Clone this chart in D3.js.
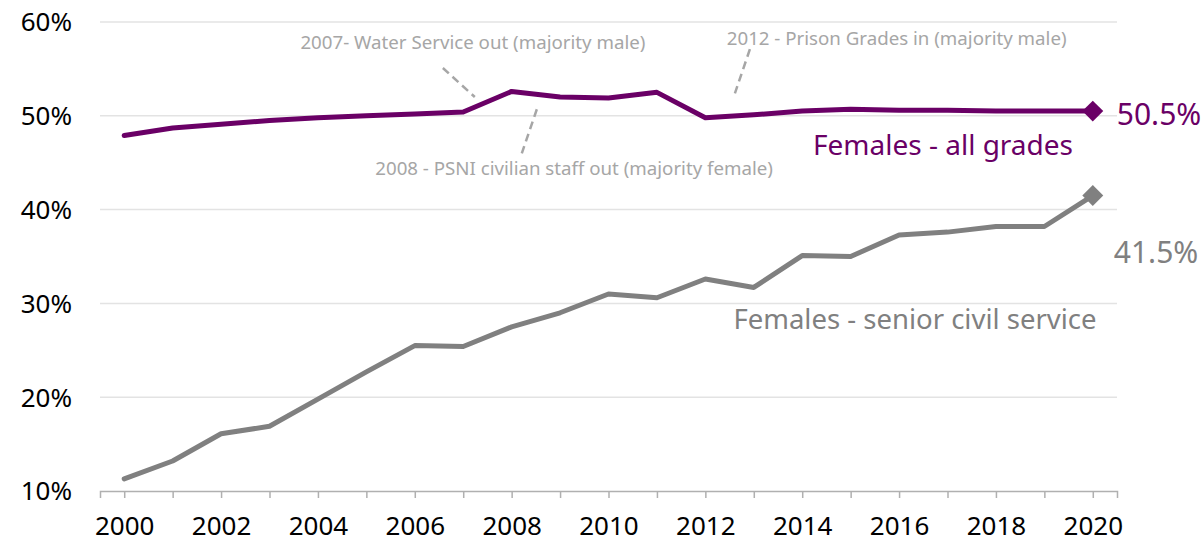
<!DOCTYPE html>
<html>
<head>
<meta charset="utf-8">
<script src="https://cdn.jsdelivr.net/npm/d3@7"></script>
<style>
  html, body { margin: 0; padding: 0; background: #fff; }
  svg text { font-family: "Noto Sans", sans-serif; }
</style>
</head>
<body>
<svg id="svg" width="1203" height="543"></svg>
<script>
'use strict'

var years = d3.range(2000, 2021);
var allGrades = [47.9, 48.7, 49.1, 49.5, 49.8, 50.0, 50.2, 50.4, 52.6, 52.0, 51.9,
                 52.5, 49.8, 50.1, 50.5, 50.7, 50.6, 50.6, 50.5, 50.5, 50.5];
var seniorCS = [11.3, 13.2, 16.1, 16.9, 19.8, 22.7, 25.5, 25.4, 27.5, 29.0, 31.0,
                30.6, 32.6, 31.7, 35.1, 35.0, 37.3, 37.6, 38.2, 38.2, 41.5];
var yTicks = [10, 20, 30, 40, 50, 60];
var xLabels = d3.range(2000, 2021, 2);

var purple = '#6a0066';
var grey = '#808080';
var noteGrey = '#a6a6a6';
var numFont = '"DejaVu Sans", sans-serif';

var svg = d3.select('#svg');

var x = d3.scaleLinear().domain([1999.5, 2020.5]).range([100, 1117]);
var y = d3.scaleLinear().domain([10, 60]).range([491, 22]);

// gridlines
svg.append('g')
  .selectAll('line')
  .data(yTicks.slice(1))
  .enter().append('line')
    .attr('x1', x(1999.5)).attr('x2', x(2020.5))
    .attr('y1', function(d) { return y(d); })
    .attr('y2', function(d) { return y(d); })
    .attr('stroke', '#e3e3e3')
    .attr('stroke-width', 1.5);

// y labels
svg.append('g')
  .selectAll('text')
  .data(yTicks)
  .enter().append('text')
    .attr('x', 72)
    .attr('y', function(d) { return y(d); })
    .attr('dy', '0.36em')
    .attr('text-anchor', 'end')
    .attr('font-family', numFont)
    .attr('font-size', 26)
    .attr('fill', '#000')
    .text(function(d) { return d + '%'; });

// x axis
var xAxis = d3.axisBottom(x)
  .tickValues(years)
  .tickSize(7)
  .tickFormat(function(d) { return xLabels.indexOf(d) >= 0 ? d : ''; });

var gx = svg.append('g')
  .attr('transform', 'translate(0,' + y(10) + ')')
  .call(xAxis);
gx.select('.domain').attr('stroke', '#b0b0b0').attr('stroke-width', 1.5);
gx.selectAll('.tick line').attr('stroke', '#b0b0b0').attr('stroke-width', 1.5);
gx.selectAll('.tick text')
  .attr('font-family', numFont)
  .attr('font-size', 26)
  .attr('fill', '#000')
  .attr('y', 35)
  .attr('dy', '0.36em');

// lines
var line = d3.line()
  .x(function(d, i) { return x(years[i]); })
  .y(function(d) { return y(d); });

[[seniorCS, grey], [allGrades, purple]].forEach(function(s) {
  svg.append('path')
    .attr('d', line(s[0]))
    .attr('fill', 'none')
    .attr('stroke', s[1])
    .attr('stroke-width', 5)
    .attr('stroke-linejoin', 'round')
    .attr('stroke-linecap', 'round');

  var last = s[0].length - 1;
  svg.append('path')
    .attr('d', d3.symbol().type(d3.symbolDiamond2).size(280)())
    .attr('transform', 'translate(' + x(years[last]) + ',' + y(s[0][last]) + ')')
    .attr('fill', s[1]);
});

// end value labels
svg.append('text')
  .attr('x', x(2020) + 24).attr('y', y(allGrades[20]) + 3)
  .attr('dy', '0.36em')
  .attr('font-size', 30)
  .attr('fill', purple)
  .text(allGrades[20].toFixed(1) + '%');

svg.append('text')
  .attr('x', x(2020) + 21).attr('y', y(seniorCS[20]) + 57)
  .attr('dy', '0.36em')
  .attr('font-size', 30)
  .attr('fill', grey)
  .text(seniorCS[20].toFixed(1) + '%');

// series labels
svg.append('text')
  .attr('x', 943).attr('y', 145)
  .attr('dy', '0.36em')
  .attr('text-anchor', 'middle')
  .attr('font-size', 28)
  .attr('fill', purple)
  .text('Females - all grades');

svg.append('text')
  .attr('x', 915).attr('y', 319)
  .attr('dy', '0.36em')
  .attr('text-anchor', 'middle')
  .attr('font-size', 27.5)
  .attr('fill', grey)
  .text('Females - senior civil service');

// annotations (text centre and leader ends in chart units)
var notes = [
  { text: '2007- Water Service out (majority male)', tx: 2007.2, ty: 57.8,
    l: [[2006.58, 55.1], [2007.24, 52.0]] },
  { text: '2012 - Prison Grades in (majority male)', tx: 2015.95, ty: 58.3,
    l: [[2012.92, 57.1], [2012.61, 52.4]] },
  { text: '2008 - PSNI civilian staff out (majority female)', tx: 2009.29, ty: 44.4,
    l: [[2008.52, 50.7], [2008.21, 46.0]] }
];

var gn = svg.append('g');
notes.forEach(function(n) {
  gn.append('line')
    .attr('x1', x(n.l[0][0])).attr('y1', y(n.l[0][1]))
    .attr('x2', x(n.l[1][0])).attr('y2', y(n.l[1][1]))
    .attr('stroke', noteGrey)
    .attr('stroke-width', 2.5)
    .attr('stroke-dasharray', '8,5');
  gn.append('text')
    .attr('x', x(n.tx)).attr('y', y(n.ty))
    .attr('dy', '0.36em')
    .attr('text-anchor', 'middle')
    .attr('font-size', 18.7)
    .attr('fill', noteGrey)
    .text(n.text);
});
</script>
</body>
</html>
